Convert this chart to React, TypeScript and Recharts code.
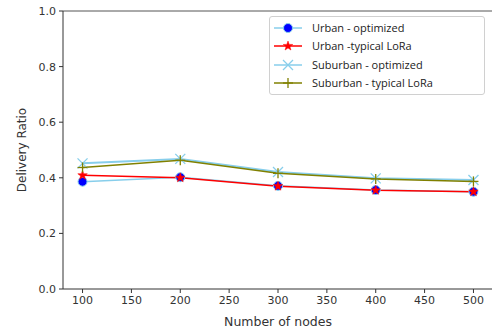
import React from "react";
import { LineChart, Line, XAxis, YAxis, ReferenceLine } from "recharts";

const nodes = [100, 200, 300, 400, 500];
const urbanOptimized = [0.386, 0.402, 0.371, 0.356, 0.35];
const urbanTypical = [0.409, 0.4, 0.37, 0.355, 0.35];
const suburbanOptimized = [0.452, 0.468, 0.421, 0.398, 0.392];
const suburbanTypical = [0.437, 0.463, 0.416, 0.396, 0.387];
const xTicks = [100, 150, 200, 250, 300, 350, 400, 450, 500];
const yTicks = [0, 0.2, 0.4, 0.6, 0.8, 1.0];

const data = nodes.map((n, i) => ({
  n,
  uo: urbanOptimized[i],
  ut: urbanTypical[i],
  so: suburbanOptimized[i],
  st: suburbanTypical[i],
}));

const series = [
  { key: "uo", name: "Urban - optimized", color: "#87ceeb", marker: "circle" },
  { key: "ut", name: "Urban -typical LoRa", color: "#ff0000", marker: "star" },
  { key: "so", name: "Suburban - optimized", color: "#87ceeb", marker: "x" },
  { key: "st", name: "Suburban - typical LoRa", color: "#808000", marker: "plus" },
];

function starPoints(cx: number, cy: number, R: number, r: number) {
  const pts: string[] = [];
  for (let i = 0; i < 10; i++) {
    const ang = -Math.PI / 2 + (i * Math.PI) / 5;
    const rad = i % 2 === 0 ? R : r;
    pts.push(`${cx + rad * Math.cos(ang)},${cy + rad * Math.sin(ang)}`);
  }
  return pts.join(" ");
}

function Marker({ type, cx, cy }: { type: string; cx: number; cy: number }) {
  if (type === "circle")
    return <circle cx={cx} cy={cy} r={4.5} fill="#0000ff" stroke="#87ceeb" strokeWidth={1} />;
  if (type === "star")
    return <polygon points={starPoints(cx, cy, 5, 2)} fill="#ff0000" stroke="#ff0000" strokeWidth={0.5} />;
  if (type === "x")
    return (
      <g stroke="#87ceeb" strokeWidth={1.3}>
        <line x1={cx - 5} y1={cy - 5} x2={cx + 5} y2={cy + 5} />
        <line x1={cx - 5} y1={cy + 5} x2={cx + 5} y2={cy - 5} />
      </g>
    );
  return (
    <g stroke="#808000" strokeWidth={1.3}>
      <line x1={cx - 5} y1={cy} x2={cx + 5} y2={cy} />
      <line x1={cx} y1={cy - 5} x2={cx} y2={cy + 5} />
    </g>
  );
}

const makeDot = (type: string) => (props: any) => {
  const { cx, cy, index } = props;
  if (cx == null || cy == null) return <g key={index} />;
  return <Marker key={index} type={type} cx={cx} cy={cy} />;
};

const LegendBox = () => (
  <div
    style={{
      position: "absolute",
      left: 269,
      top: 16,
      border: "1px solid #d0d0d0",
      borderRadius: 3,
      background: "#fff",
      width: 216,
      height: 79,
      boxSizing: "border-box",
      fontFamily: "Open Sans, sans-serif",
      fontSize: 11,
      color: "#222",
    }}
  >
    {series.map((s, i) => (
      <div key={s.key} style={{ position: "absolute", left: 0, top: 3 + i * 18.3, height: 16, width: 214 }}>
        <svg width={40} height={16} style={{ position: "absolute", left: 0, top: 0 }}>
          <line x1={4} y1={8} x2={32} y2={8} stroke={s.color} strokeWidth={1.5} />
          <Marker type={s.marker} cx={18} cy={8} />
        </svg>
        <span style={{ position: "absolute", left: 42, top: 0, lineHeight: "15px", whiteSpace: "nowrap" }}>
          {s.name}
        </span>
      </div>
    ))}
  </div>
);

const tickStyle = { fill: "#333", fontSize: 11, fontFamily: "DejaVu Sans, sans-serif" };

export default function App() {
  return (
    <div style={{ position: "absolute", left: 0, top: 0, width: 492, height: 331, background: "#fff", overflow: "hidden" }}>
      <LineChart
        width={493}
        height={331}
        data={data}
        margin={{ top: 11, right: 0, bottom: 0, left: 0 }}
      >
        <XAxis
          dataKey="n"
          type="number"
          domain={[80, 520]}
          ticks={xTicks}
          allowDataOverflow
          height={42}
          tick={tickStyle}
          tickSize={4}
          tickMargin={3}
          stroke="#333"
          label={{
            value: "Number of nodes",
            position: "insideBottom",
            offset: 5,
            style: { fill: "#333", fontSize: 12.5, fontFamily: "DejaVu Sans, sans-serif" },
          }}
        />
        <YAxis
          type="number"
          domain={[0, 1]}
          ticks={yTicks}
          width={63}
          tick={tickStyle}
          tickFormatter={(v: number) => v.toFixed(1)}
          tickSize={4}
          tickMargin={3}
          stroke="#333"
          label={{
            value: "Delivery Ratio",
            angle: -90,
            position: "insideLeft",
            offset: 22,
            style: { textAnchor: "middle", fill: "#333", fontSize: 12, fontFamily: "DejaVu Sans, sans-serif" },
          }}
        />
        <ReferenceLine y={1} stroke="#555" strokeWidth={1} />
        <Line dataKey="uo" name="Urban - optimized" stroke="#87ceeb" strokeWidth={1.5} dot={makeDot("circle")} isAnimationActive={false} />
        <Line dataKey="ut" name="Urban -typical LoRa" stroke="#ff0000" strokeWidth={1.5} dot={makeDot("star")} isAnimationActive={false} />
        <Line dataKey="so" name="Suburban - optimized" stroke="#87ceeb" strokeWidth={2} dot={makeDot("x")} isAnimationActive={false} />
        <Line dataKey="st" name="Suburban - typical LoRa" stroke="#808000" strokeWidth={1.5} dot={makeDot("plus")} isAnimationActive={false} />
      </LineChart>
      <LegendBox />
    </div>
  );
}
